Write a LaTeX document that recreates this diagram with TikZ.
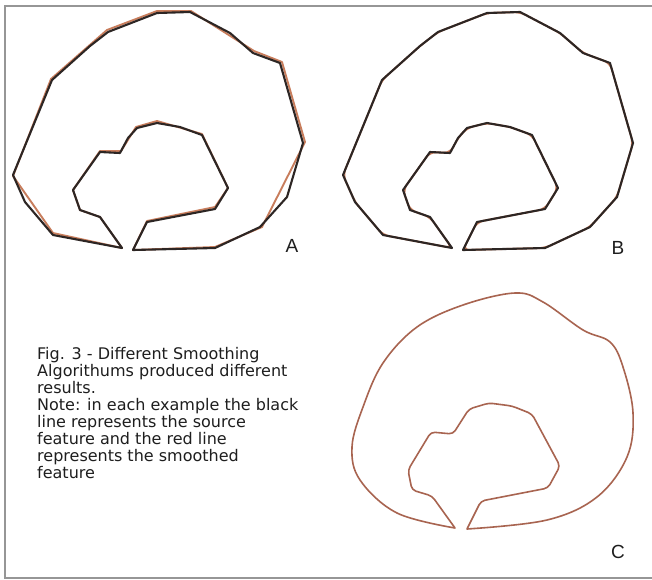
\documentclass[tikz,border=0pt]{standalone}
\usepackage{fontspec}
\setmainfont{DejaVu Sans}
\newfontfamily\labfont{Liberation Sans}
\definecolor{srcblack}{RGB}{45,38,36}
\definecolor{smred}{RGB}{200,125,92}
\definecolor{smbrown}{RGB}{168,100,80}
\definecolor{framegray}{RGB}{150,150,150}
\definecolor{txtgray}{RGB}{30,30,30}
\tikzset{
  srcline/.style={draw=srcblack, line width=2.1pt, line join=round, line cap=round},
  smline/.style={draw=smred, line width=1.9pt, line join=round, line cap=round},
  cline/.style={draw=smbrown, line width=1.6pt, line join=round, line cap=round},
  framestyle/.style={draw=framegray, line width=1.2pt},
  lab/.style={font=\labfont\fontsize{19}{19}\selectfont, text=txtgray, inner sep=0pt},
  pics/source/.style={code={
    \draw[srcline] (122,248) -- (53,235) -- (25,202) -- (13,175) -- (52,80) -- (90,46) -- (108,32) -- (157,13) -- (190,12) -- (230,33) -- (253,53) -- (280,63) -- (303,143) -- (287,197) -- (260,227) -- (215,248) -- (133,250) -- (147,222) -- (215,209) -- (228,188) -- (202,135) -- (180,127) -- (157,123) -- (137,128) -- (128,138) -- (120,153) -- (100,152) -- (73,190) -- (80,210) -- (100,217) -- cycle;
  }},
  pics/smoothA/.style={code={
    \draw[smline] (122,248) -- (53,233) -- (13,176) -- (51,79) -- (107,30) -- (157,11) -- (191,11) -- (254,51) -- (282,62) -- (305,142) -- (262,227) -- (215,247) -- (133,250) -- (147,221) -- (215,207) -- (228,188) -- (202,134) -- (157,121) -- (136,127) -- (121,151) -- (100,151) -- (73,190) -- (80,210) -- (100,217) -- cycle;
  }},
  pics/smoothB/.style={code={
    \draw[smline, rounded corners=6pt] (122,248) -- (53,235) -- (25,202) -- (13,175) -- (52,80) -- (90,46) -- (108,32) -- (157,13) -- (190,12) -- (230,33) -- (253,53) -- (280,63) -- (303,143) -- (287,197) -- (260,227) -- (215,248) -- (133,250) -- (147,222) -- (215,209) -- (228,188) -- (202,135) -- (180,127) -- (157,123) -- (137,128) -- (128,138) -- (120,153) -- (100,152) -- (73,190) -- (80,210) -- (100,217) -- cycle;
  }},
  pics/smoothC/.style={code={
    \draw[cline] plot[smooth, tension=0.6] coordinates {(123,248) (65,233) (28,200) (20,167) (31,127) (51,83) (85,47) (131,25) (183,13) (211,22) (251,50) (278,62) (291,87) (301,133) (295,177) (265,217) (215,240) (135,249)}
      [rounded corners=4pt] -- (149,221) -- (216,208) -- (228,186) -- (200,134) -- (180,126) -- (157,123) -- (137,129) -- (121,154) -- (99,152) -- (76,190) -- (80,210) -- (100,216) -- (123,248);
  }}
}
\begin{document}
\begin{tikzpicture}[x=1pt,y=-1pt]
\useasboundingbox (0,0) rectangle (652,579);
\fill[white] (0,0) rectangle (652,579);
\draw[framestyle] (652,6) -- (5,6) -- (5,578) -- (652,578);
% A
\pic at (0,0) {smoothA};
\pic at (0,0) {source};
% B
\pic at (330,0) {smoothB};
\pic at (330,0) {source};
% C
\pic at (332,280) {smoothC};
% labels
\node[lab] (labA) at (292,246) {A};
\node[lab] (labB) at (618,248) {B};
\node[lab] (labC) at (618,552) {C};
\node[anchor=north west, align=left, inner sep=0pt, text=txtgray,
      font=\fontsize{16}{17}\selectfont] (caption) at (37,347)
  {Fig. 3 - Different Smoothing\\
   Algorithums produced different\\
   results.\\
   Note: in each example the black\\
   line represents the source\\
   feature and the red line\\
   represents the smoothed\\
   feature};
\end{tikzpicture}
\end{document}
